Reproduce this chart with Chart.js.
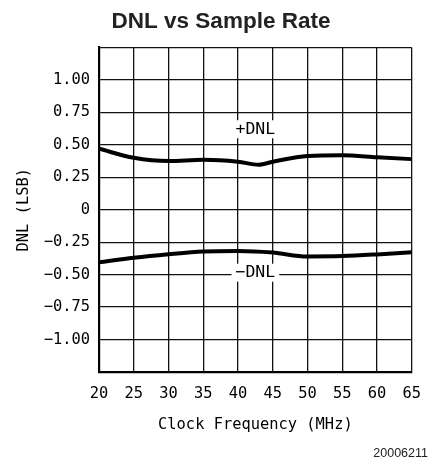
<!DOCTYPE html>
<html><head><meta charset="utf-8">
<script src="https://cdn.jsdelivr.net/npm/chart.js@4"></script>
<style>html,body{margin:0;padding:0;background:#fff}</style>
</head><body>
<canvas id="c" width="434" height="465"></canvas>
<script>
const freqPos = [20, 25, 30, 35, 40, 43, 45, 50, 55, 60, 65];
const dnlPos  = [0.47, 0.40, 0.375, 0.385, 0.37, 0.347, 0.37, 0.415, 0.42, 0.405, 0.39];
const freqNeg = [20, 25, 30, 35, 40, 45, 50, 55, 60, 65];
const dnlNeg  = [-0.405, -0.37, -0.343, -0.322, -0.318, -0.33, -0.36, -0.357, -0.344, -0.327];
const xTickValues = [20, 25, 30, 35, 40, 45, 50, 55, 60, 65];
const yTickValues = [-1.25, -1, -0.75, -0.5, -0.25, 0, 0.25, 0.5, 0.75, 1, 1.25];
const yTickLabels = ['', '\u22121.00', '\u22120.75', '\u22120.50', '\u22120.25', '0', '0.25', '0.50', '0.75', '1.00', ''];
const seriesLabels = ['+DNL', '\u2212DNL'];
const figureCode = '20006211';

const MONO = '"DejaVu Sans Mono", monospace';

const notes = {
  id: 'notes',
  beforeDatasetsDraw(chart) {
    const {ctx, scales: {x, y}} = chart;
    const anchors = [[42.5, 0.62], [42.5, -0.485]];
    ctx.save();
    ctx.font = '16.5px ' + MONO;
    ctx.textAlign = 'center';
    ctx.textBaseline = 'middle';
    seriesLabels.forEach((t, i) => {
      const px = x.getPixelForValue(anchors[i][0]);
      const py = y.getPixelForValue(anchors[i][1]);
      const w = ctx.measureText(t).width + 8;
      ctx.fillStyle = '#fff';
      ctx.fillRect(px - w / 2, py - 9, w, 18);
      ctx.fillStyle = '#000';
      ctx.fillText(t, px, py);
    });
    ctx.restore();
  },
  afterDraw(chart) {
    const {ctx} = chart;
    ctx.save();
    ctx.font = '12.5px "Liberation Sans", Arial, sans-serif';
    ctx.fillStyle = '#222';
    ctx.textAlign = 'right';
    ctx.textBaseline = 'middle';
    ctx.fillText(figureCode, 428, 454);
    ctx.restore();
  }
};

new Chart(document.getElementById('c'), {
  type: 'line',
  data: {
    datasets: [
      {
        label: seriesLabels[0],
        data: freqPos.map((f, i) => ({x: f, y: dnlPos[i]})),
        borderColor: '#000', borderWidth: 4, pointRadius: 0,
        cubicInterpolationMode: 'monotone', fill: false
      },
      {
        label: seriesLabels[1],
        data: freqNeg.map((f, i) => ({x: f, y: dnlNeg[i]})),
        borderColor: '#000', borderWidth: 4, pointRadius: 0,
        cubicInterpolationMode: 'monotone', fill: false
      }
    ]
  },
  options: {
    responsive: false,
    animation: false,
    layout: {padding: {left: 19, right: 11, top: 0, bottom: 0}},
    plugins: {
      legend: {display: false},
      tooltip: {enabled: false},
      title: {
        display: true,
        text: 'DNL vs Sample Rate',
        color: '#222',
        font: {family: '"Liberation Sans", Arial, sans-serif', size: 22.5, weight: 'bold'},
        padding: {top: 8, bottom: 12.5}
      }
    },
    scales: {
      x: {
        type: 'linear', min: 20, max: 65,
        afterBuildTicks: s => { s.ticks = xTickValues.map(v => ({value: v})); },
        afterFit: s => { s.height = 93; },
        ticks: {font: {family: MONO, size: 15.4}, color: '#000', padding: 13, maxRotation: 0, autoSkip: false},
        grid: {color: '#111', lineWidth: 1.3, drawTicks: false},
        border: {color: '#000', width: 2.2},
        title: {display: true, text: 'Clock Frequency (MHz)', color: '#000',
                font: {family: MONO, size: 15.4}, padding: {top: 0, bottom: 31}}
      },
      y: {
        type: 'linear', min: -1.25, max: 1.25,
        afterBuildTicks: s => { s.ticks = yTickValues.map(v => ({value: v})); },
        afterFit: s => { s.width = 80; },
        ticks: {
          font: {family: MONO, size: 15.4}, color: '#000', padding: 9, autoSkip: false,
          callback: v => { const i = yTickValues.findIndex(t => Math.abs(t - v) < 1e-6); return i < 0 ? '' : yTickLabels[i]; }
        },
        grid: {color: '#111', lineWidth: 1.3, drawTicks: false},
        border: {color: '#000', width: 2.2},
        title: {display: true, text: 'DNL (LSB)', color: '#000',
                font: {family: MONO, size: 15.4}, padding: {top: -4.7, bottom: 0}}
      }
    }
  },
  plugins: [notes]
});
</script>
</body></html>
